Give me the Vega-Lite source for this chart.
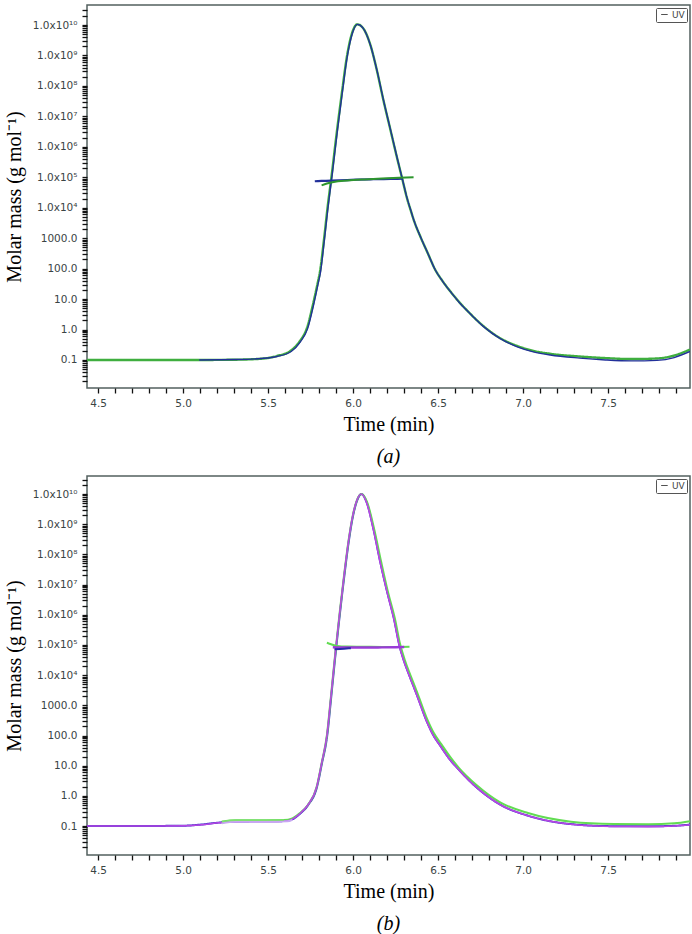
{
 "$schema": "https://vega.github.io/schema/vega-lite/v6.json",
 "background": "white",
 "padding": {"left": 3, "top": 4, "right": 2, "bottom": 0},
 "spacing": 5,
 "datasets": {
  "a": [
   {"series":"UV green","time":4.435,"mass":0.1},{"series":"UV green","time":4.80,"mass":0.1},{"series":"UV green","time":5.107,"mass":0.1},{"series":"UV green","time":5.309,"mass":0.102},{"series":"UV green","time":5.461,"mass":0.11},{"series":"UV green","time":5.552,"mass":0.135},{"series":"UV green","time":5.633,"mass":0.2},{"series":"UV green","time":5.688,"mass":0.42},{"series":"UV green","time":5.729,"mass":1.12},{"series":"UV green","time":5.765,"mass":6.9},{"series":"UV green","time":5.790,"mass":30},{"series":"UV green","time":5.806,"mass":83},{"series":"UV green","time":5.830,"mass":1000},{"series":"UV green","time":5.850,"mass":10000},{"series":"UV green","time":5.875,"mass":126000},{"series":"UV green","time":5.905,"mass":3.2e6},{"series":"UV green","time":5.935,"mass":6.3e7},{"series":"UV green","time":5.965,"mass":1.0e9},{"series":"UV green","time":5.995,"mass":5.6e9},{"series":"UV green","time":6.025,"mass":1.05e10},{"series":"UV green","time":6.059,"mass":7.9e9},{"series":"UV green","time":6.100,"mass":2.4e9},{"series":"UV green","time":6.141,"mass":3.1e8},{"series":"UV green","time":6.178,"mass":3.5e7},{"series":"UV green","time":6.218,"mass":4.0e6},{"series":"UV green","time":6.259,"mass":430000},{"series":"UV green","time":6.288,"mass":95000},{"series":"UV green","time":6.318,"mass":20000},{"series":"UV green","time":6.340,"mass":7900},{"series":"UV green","time":6.360,"mass":3550},{"series":"UV green","time":6.400,"mass":1000},{"series":"UV green","time":6.440,"mass":316},{"series":"UV green","time":6.482,"mass":95},{"series":"UV green","time":6.525,"mass":40},{"series":"UV green","time":6.571,"mass":18.2},{"series":"UV green","time":6.620,"mass":8.5},{"series":"UV green","time":6.671,"mass":4.2},{"series":"UV green","time":6.765,"mass":1.32},{"series":"UV green","time":6.865,"mass":0.52},{"series":"UV green","time":6.965,"mass":0.29},{"series":"UV green","time":7.059,"mass":0.2},{"series":"UV green","time":7.159,"mass":0.16},{"series":"UV green","time":7.333,"mass":0.13},{"series":"UV green","time":7.485,"mass":0.115},{"series":"UV green","time":7.636,"mass":0.107},{"series":"UV green","time":7.788,"mass":0.112},{"series":"UV green","time":7.889,"mass":0.14},{"series":"UV green","time":7.982,"mass":0.22},
   {"series":"UV blue","time":5.095,"mass":0.1},{"series":"UV blue","time":5.309,"mass":0.103},{"series":"UV blue","time":5.461,"mass":0.112},{"series":"UV blue","time":5.552,"mass":0.13},{"series":"UV blue","time":5.636,"mass":0.19},{"series":"UV blue","time":5.691,"mass":0.4},{"series":"UV blue","time":5.732,"mass":1.05},{"series":"UV blue","time":5.768,"mass":6.5},{"series":"UV blue","time":5.793,"mass":29},{"series":"UV blue","time":5.809,"mass":80},{"series":"UV blue","time":5.832,"mass":950},{"series":"UV blue","time":5.852,"mass":9500},{"series":"UV blue","time":5.877,"mass":120000},{"series":"UV blue","time":5.907,"mass":3.1e6},{"series":"UV blue","time":5.937,"mass":6.2e7},{"series":"UV blue","time":5.967,"mass":1.0e9},{"series":"UV blue","time":5.997,"mass":5.6e9},{"series":"UV blue","time":6.026,"mass":1.05e10},{"series":"UV blue","time":6.060,"mass":7.8e9},{"series":"UV blue","time":6.101,"mass":2.3e9},{"series":"UV blue","time":6.142,"mass":3.0e8},{"series":"UV blue","time":6.179,"mass":3.4e7},{"series":"UV blue","time":6.219,"mass":3.9e6},{"series":"UV blue","time":6.260,"mass":420000},{"series":"UV blue","time":6.289,"mass":93000},{"series":"UV blue","time":6.319,"mass":19500},{"series":"UV blue","time":6.341,"mass":7700},{"series":"UV blue","time":6.361,"mass":3450},{"series":"UV blue","time":6.401,"mass":980},{"series":"UV blue","time":6.441,"mass":308},{"series":"UV blue","time":6.483,"mass":92},{"series":"UV blue","time":6.526,"mass":39},{"series":"UV blue","time":6.572,"mass":17.8},{"series":"UV blue","time":6.621,"mass":8.2},{"series":"UV blue","time":6.672,"mass":4.1},{"series":"UV blue","time":6.766,"mass":1.27},{"series":"UV blue","time":6.866,"mass":0.5},{"series":"UV blue","time":6.966,"mass":0.27},{"series":"UV blue","time":7.06,"mass":0.185},{"series":"UV blue","time":7.16,"mass":0.145},{"series":"UV blue","time":7.333,"mass":0.115},{"series":"UV blue","time":7.485,"mass":0.1},{"series":"UV blue","time":7.636,"mass":0.093},{"series":"UV blue","time":7.788,"mass":0.097},{"series":"UV blue","time":7.889,"mass":0.12},{"series":"UV blue","time":7.982,"mass":0.19},
   {"series":"MM blue","time":5.775,"mass":74000},{"series":"MM blue","time":5.815,"mass":76000},{"series":"MM blue","time":5.916,"mass":79000},{"series":"MM blue","time":6.018,"mass":83000},{"series":"MM blue","time":6.119,"mass":86000},{"series":"MM blue","time":6.220,"mass":88000},{"series":"MM blue","time":6.291,"mass":90000},
   {"series":"MM green","time":5.815,"mass":54000},{"series":"MM green","time":5.846,"mass":62000},{"series":"MM green","time":5.886,"mass":70000},{"series":"MM green","time":5.967,"mass":78000},{"series":"MM green","time":6.068,"mass":85000},{"series":"MM green","time":6.170,"mass":91000},{"series":"MM green","time":6.271,"mass":96000},{"series":"MM green","time":6.356,"mass":100000}
  ],
  "b": [
   {"series":"UV magenta","time":4.435,"mass":0.1},{"series":"UV magenta","time":4.80,"mass":0.1},{"series":"UV magenta","time":5.006,"mass":0.102},{"series":"UV magenta","time":5.107,"mass":0.11},{"series":"UV magenta","time":5.208,"mass":0.128},{"series":"UV magenta","time":5.289,"mass":0.14},{"series":"UV magenta","time":5.461,"mass":0.142},{"series":"UV magenta","time":5.593,"mass":0.145},{"series":"UV magenta","time":5.643,"mass":0.17},{"series":"UV magenta","time":5.684,"mass":0.25},{"series":"UV magenta","time":5.734,"mass":0.5},{"series":"UV magenta","time":5.785,"mass":1.9},{"series":"UV magenta","time":5.815,"mass":12},{"series":"UV magenta","time":5.846,"mass":100},{"series":"UV magenta","time":5.870,"mass":2000},{"series":"UV magenta","time":5.895,"mass":50000},{"series":"UV magenta","time":5.922,"mass":1.26e6},{"series":"UV magenta","time":5.947,"mass":2.0e7},{"series":"UV magenta","time":5.972,"mass":2.5e8},{"series":"UV magenta","time":5.997,"mass":1.78e9},{"series":"UV magenta","time":6.023,"mass":6.3e9},{"series":"UV magenta","time":6.048,"mass":1.0e10},{"series":"UV magenta","time":6.078,"mass":5.5e9},{"series":"UV magenta","time":6.119,"mass":6.9e8},{"series":"UV magenta","time":6.159,"mass":5.6e7},{"series":"UV magenta","time":6.200,"mass":5.6e6},{"series":"UV magenta","time":6.240,"mass":720000},{"series":"UV magenta","time":6.271,"mass":100000},{"series":"UV magenta","time":6.300,"mass":28000},{"series":"UV magenta","time":6.321,"mass":13200},{"series":"UV magenta","time":6.350,"mass":5000},{"series":"UV magenta","time":6.372,"mass":2400},{"series":"UV magenta","time":6.432,"mass":300},{"series":"UV magenta","time":6.470,"mass":105},{"series":"UV magenta","time":6.513,"mass":45},{"series":"UV magenta","time":6.565,"mass":17},{"series":"UV magenta","time":6.625,"mass":7},{"series":"UV magenta","time":6.726,"mass":1.9},{"series":"UV magenta","time":6.868,"mass":0.5},{"series":"UV magenta","time":7.029,"mass":0.22},{"series":"UV magenta","time":7.282,"mass":0.115},{"series":"UV magenta","time":7.535,"mass":0.097},{"series":"UV magenta","time":7.738,"mass":0.096},{"series":"UV magenta","time":7.889,"mass":0.1},{"series":"UV magenta","time":7.982,"mass":0.11},
   {"series":"UV blue","time":4.435,"mass":0.101},{"series":"UV blue","time":4.80,"mass":0.101},{"series":"UV blue","time":5.006,"mass":0.103},{"series":"UV blue","time":5.107,"mass":0.112},{"series":"UV blue","time":5.208,"mass":0.13},{"series":"UV blue","time":5.289,"mass":0.141},{"series":"UV blue","time":5.593,"mass":0.146},{"series":"UV blue","time":5.645,"mass":0.17},{"series":"UV blue","time":5.686,"mass":0.25},{"series":"UV blue","time":5.736,"mass":0.5},{"series":"UV blue","time":5.787,"mass":1.9},{"series":"UV blue","time":5.817,"mass":12},{"series":"UV blue","time":5.848,"mass":100},{"series":"UV blue","time":5.872,"mass":2000},{"series":"UV blue","time":5.897,"mass":50000},{"series":"UV blue","time":5.924,"mass":1.26e6},{"series":"UV blue","time":5.949,"mass":2.0e7},{"series":"UV blue","time":5.974,"mass":2.5e8},{"series":"UV blue","time":5.999,"mass":1.78e9},{"series":"UV blue","time":6.025,"mass":6.3e9},{"series":"UV blue","time":6.049,"mass":1.0e10},{"series":"UV blue","time":6.079,"mass":5.5e9},{"series":"UV blue","time":6.120,"mass":6.9e8},{"series":"UV blue","time":6.160,"mass":5.6e7},{"series":"UV blue","time":6.201,"mass":5.6e6},{"series":"UV blue","time":6.241,"mass":720000},{"series":"UV blue","time":6.272,"mass":100000},{"series":"UV blue","time":6.301,"mass":28000},{"series":"UV blue","time":6.322,"mass":13200},{"series":"UV blue","time":6.351,"mass":5000},{"series":"UV blue","time":6.373,"mass":2400},{"series":"UV blue","time":6.433,"mass":300},{"series":"UV blue","time":6.471,"mass":105},{"series":"UV blue","time":6.514,"mass":45},{"series":"UV blue","time":6.566,"mass":17},{"series":"UV blue","time":6.626,"mass":7},{"series":"UV blue","time":6.727,"mass":1.9},{"series":"UV blue","time":6.869,"mass":0.5},{"series":"UV blue","time":7.030,"mass":0.22},{"series":"UV blue","time":7.282,"mass":0.116},{"series":"UV blue","time":7.535,"mass":0.099},{"series":"UV blue","time":7.738,"mass":0.098},{"series":"UV blue","time":7.889,"mass":0.102},{"series":"UV blue","time":7.982,"mass":0.112},
   {"series":"UV green","time":5.228,"mass":0.14},{"series":"UV green","time":5.309,"mass":0.155},{"series":"UV green","time":5.461,"mass":0.156},{"series":"UV green","time":5.593,"mass":0.158},{"series":"UV green","time":5.643,"mass":0.18},{"series":"UV green","time":5.684,"mass":0.26},{"series":"UV green","time":5.734,"mass":0.5},{"series":"UV green","time":5.785,"mass":1.9},{"series":"UV green","time":5.815,"mass":12},{"series":"UV green","time":5.846,"mass":100},{"series":"UV green","time":5.870,"mass":2000},{"series":"UV green","time":5.895,"mass":50000},{"series":"UV green","time":5.922,"mass":1.26e6},{"series":"UV green","time":5.947,"mass":2.0e7},{"series":"UV green","time":5.972,"mass":2.5e8},{"series":"UV green","time":5.997,"mass":1.78e9},{"series":"UV green","time":6.023,"mass":6.3e9},{"series":"UV green","time":6.048,"mass":1.0e10},{"series":"UV green","time":6.082,"mass":5.5e9},{"series":"UV green","time":6.124,"mass":7e8},{"series":"UV green","time":6.165,"mass":5.8e7},{"series":"UV green","time":6.205,"mass":5.8e6},{"series":"UV green","time":6.246,"mass":750000},{"series":"UV green","time":6.277,"mass":105000},{"series":"UV green","time":6.306,"mass":30000},{"series":"UV green","time":6.327,"mass":14000},{"series":"UV green","time":6.356,"mass":5400},{"series":"UV green","time":6.378,"mass":2600},{"series":"UV green","time":6.438,"mass":330},{"series":"UV green","time":6.476,"mass":118},{"series":"UV green","time":6.519,"mass":52},{"series":"UV green","time":6.570,"mass":20},{"series":"UV green","time":6.625,"mass":8.2},{"series":"UV green","time":6.726,"mass":2.3},{"series":"UV green","time":6.868,"mass":0.6},{"series":"UV green","time":7.029,"mass":0.27},{"series":"UV green","time":7.282,"mass":0.14},{"series":"UV green","time":7.535,"mass":0.117},{"series":"UV green","time":7.738,"mass":0.115},{"series":"UV green","time":7.889,"mass":0.123},{"series":"UV green","time":7.982,"mass":0.145},
   {"series":"UV lavender","time":5.228,"mass":0.125},{"series":"UV lavender","time":5.309,"mass":0.138},{"series":"UV lavender","time":5.461,"mass":0.14},{"series":"UV lavender","time":5.613,"mass":0.143},{"series":"UV lavender","time":5.643,"mass":0.16},
   {"series":"MM green","time":5.846,"mass":118000},{"series":"MM green","time":5.871,"mass":105000},{"series":"MM green","time":5.906,"mass":92000},{"series":"MM green","time":5.967,"mass":88000},{"series":"MM green","time":6.068,"mass":87000},{"series":"MM green","time":6.170,"mass":86000},{"series":"MM green","time":6.271,"mass":86000},{"series":"MM green","time":6.332,"mass":87000},
   {"series":"MM magenta","time":5.881,"mass":84000},{"series":"MM magenta","time":5.967,"mass":82000},{"series":"MM magenta","time":6.068,"mass":82000},{"series":"MM magenta","time":6.170,"mass":83000},{"series":"MM magenta","time":6.301,"mass":85000},
   {"series":"MM blue","time":5.891,"mass":72000},{"series":"MM blue","time":5.947,"mass":75000},{"series":"MM blue","time":5.987,"mass":78000}
  ]
 },
 "vconcat": [
  {
   "width": 603, "height": 383,
   "data": {"name": "a"},
   "title": {"text": "(a)", "orient": "bottom", "frame": "group", "anchor": "middle", "offset": 12},
   "encoding": {
    "x": {"field": "time", "type": "quantitative", "scale": {"domain": [4.435, 7.982], "nice": false, "zero": false},
     "axis": {"title": "Time (min)", "values": [4.5,4.6,4.7,4.8,4.9,5.0,5.1,5.2,5.3,5.4,5.5,5.6,5.7,5.8,5.9,6.0,6.1,6.2,6.3,6.4,6.5,6.6,6.7,6.8,6.9,7.0,7.1,7.2,7.3,7.4,7.5,7.6,7.7,7.8,7.9],
      "labelExpr": "abs(datum.value*2 - round(datum.value*2)) < 0.001 ? format(datum.value, '.1f') : ''",
      "labelOverlap": false, "labelPadding": 5, "titlePadding": 6, "ticks": true, "tickSize": 5, "tickWidth": 1.3, "tickColor": "#111111"}},
    "y": {"field": "mass", "type": "quantitative", "scale": {"type": "log", "domain": [0.012, 4.54e10], "nice": false},
     "axis": {"title": "Molar mass (g mol⁻¹)",
      "values": [0.02,0.03,0.04,0.05,0.06,0.07,0.08,0.09,0.1,0.2,0.3,0.4,0.5,0.6,0.7,0.8,0.9,1,2,3,4,5,6,7,8,9,10,20,30,40,50,60,70,80,90,100,200,300,400,500,600,700,800,900,1000,2000,3000,4000,5000,6000,7000,8000,9000,1e4,2e4,3e4,4e4,5e4,6e4,7e4,8e4,9e4,1e5,2e5,3e5,4e5,5e5,6e5,7e5,8e5,9e5,1e6,2e6,3e6,4e6,5e6,6e6,7e6,8e6,9e6,1e7,2e7,3e7,4e7,5e7,6e7,7e7,8e7,9e7,1e8,2e8,3e8,4e8,5e8,6e8,7e8,8e8,9e8,1e9,2e9,3e9,4e9,5e9,6e9,7e9,8e9,9e9,1e10,2e10,3e10],
      "labelExpr": "abs(log(datum.value)/LN10 - round(log(datum.value)/LN10)) > 0.001 ? '' : datum.value < 5000 ? format(datum.value, '.1f') : '1.0x10' + (datum.value < 5e4 ? '⁴' : datum.value < 5e5 ? '⁵' : datum.value < 5e6 ? '⁶' : datum.value < 5e7 ? '⁷' : datum.value < 5e8 ? '⁸' : datum.value < 5e9 ? '⁹' : '¹⁰')",
      "labelOverlap": false, "labelPadding": 5, "titlePadding": 8, "ticks": true, "tickSize": 5, "tickWidth": 1.3, "tickColor": "#111111"}}
   },
   "layer": [
    {"transform": [{"filter": "datum.series == 'UV green'"}], "mark": {"type": "line", "color": "#3fae3f", "strokeWidth": 2.4, "interpolate": "monotone", "clip": true},
     "encoding": {"strokeDash": {"datum": "UV", "scale": {"domain": ["UV"], "range": [[1, 0]]},
      "legend": {"title": null, "orient": "top-right", "offset": 3, "padding": 2, "strokeColor": "#555555", "fillColor": "white", "cornerRadius": 1, "labelFont": "DejaVu Sans", "labelFontSize": 9, "labelColor": "#444444", "symbolType": "stroke", "symbolStrokeColor": "#222222", "symbolStrokeWidth": 1, "symbolSize": 40, "symbolOffset": 2, "labelOffset": 3}}}},
    {"transform": [{"filter": "datum.series == 'UV blue'"}], "mark": {"type": "line", "color": "#22309a", "strokeWidth": 1.4, "interpolate": "monotone", "clip": true}, "encoding": {}},
    {"transform": [{"filter": "datum.series == 'MM blue'"}], "mark": {"type": "line", "color": "#22309a", "strokeWidth": 2.2, "interpolate": "monotone", "clip": true}, "encoding": {}},
    {"transform": [{"filter": "datum.series == 'MM green'"}], "mark": {"type": "line", "color": "#2e962e", "strokeWidth": 2, "interpolate": "monotone", "clip": true}, "encoding": {}}
   ]
  },
  {
   "width": 603, "height": 379,
   "data": {"name": "b"},
   "title": {"text": "(b)", "orient": "bottom", "frame": "group", "anchor": "middle", "offset": 12},
   "encoding": {
    "x": {"field": "time", "type": "quantitative", "scale": {"domain": [4.435, 7.982], "nice": false, "zero": false},
     "axis": {"title": "Time (min)", "values": [4.5,4.6,4.7,4.8,4.9,5.0,5.1,5.2,5.3,5.4,5.5,5.6,5.7,5.8,5.9,6.0,6.1,6.2,6.3,6.4,6.5,6.6,6.7,6.8,6.9,7.0,7.1,7.2,7.3,7.4,7.5,7.6,7.7,7.8,7.9],
      "labelExpr": "abs(datum.value*2 - round(datum.value*2)) < 0.001 ? format(datum.value, '.1f') : ''",
      "labelOverlap": false, "labelPadding": 5, "titlePadding": 6, "ticks": true, "tickSize": 5, "tickWidth": 1.3, "tickColor": "#111111"}},
    "y": {"field": "mass", "type": "quantitative", "scale": {"type": "log", "domain": [0.011, 3.95e10], "nice": false},
     "axis": {"title": "Molar mass (g mol⁻¹)",
      "values": [0.02,0.03,0.04,0.05,0.06,0.07,0.08,0.09,0.1,0.2,0.3,0.4,0.5,0.6,0.7,0.8,0.9,1,2,3,4,5,6,7,8,9,10,20,30,40,50,60,70,80,90,100,200,300,400,500,600,700,800,900,1000,2000,3000,4000,5000,6000,7000,8000,9000,1e4,2e4,3e4,4e4,5e4,6e4,7e4,8e4,9e4,1e5,2e5,3e5,4e5,5e5,6e5,7e5,8e5,9e5,1e6,2e6,3e6,4e6,5e6,6e6,7e6,8e6,9e6,1e7,2e7,3e7,4e7,5e7,6e7,7e7,8e7,9e7,1e8,2e8,3e8,4e8,5e8,6e8,7e8,8e8,9e8,1e9,2e9,3e9,4e9,5e9,6e9,7e9,8e9,9e9,1e10,2e10,3e10],
      "labelExpr": "abs(log(datum.value)/LN10 - round(log(datum.value)/LN10)) > 0.001 ? '' : datum.value < 5000 ? format(datum.value, '.1f') : '1.0x10' + (datum.value < 5e4 ? '⁴' : datum.value < 5e5 ? '⁵' : datum.value < 5e6 ? '⁶' : datum.value < 5e7 ? '⁷' : datum.value < 5e8 ? '⁸' : datum.value < 5e9 ? '⁹' : '¹⁰')",
      "labelOverlap": false, "labelPadding": 5, "titlePadding": 8, "ticks": true, "tickSize": 5, "tickWidth": 1.3, "tickColor": "#111111"}}
   },
   "layer": [
    {"transform": [{"filter": "datum.series == 'UV blue'"}], "mark": {"type": "line", "color": "#3434c4", "strokeWidth": 2, "interpolate": "monotone", "clip": true},
     "encoding": {"strokeDash": {"datum": "UV", "scale": {"domain": ["UV"], "range": [[1, 0]]},
      "legend": {"title": null, "orient": "top-right", "offset": 3, "padding": 2, "strokeColor": "#555555", "fillColor": "white", "cornerRadius": 1, "labelFont": "DejaVu Sans", "labelFontSize": 9, "labelColor": "#444444", "symbolType": "stroke", "symbolStrokeColor": "#222222", "symbolStrokeWidth": 1, "symbolSize": 40, "symbolOffset": 2, "labelOffset": 3}}}},
    {"transform": [{"filter": "datum.series == 'UV green'"}], "mark": {"type": "line", "color": "#62dc52", "strokeWidth": 2, "interpolate": "monotone", "clip": true}, "encoding": {}},
    {"transform": [{"filter": "datum.series == 'UV magenta'"}], "mark": {"type": "line", "color": "#b846e4", "strokeWidth": 1.6, "interpolate": "monotone", "clip": true}, "encoding": {}},
    {"transform": [{"filter": "datum.series == 'UV lavender'"}], "mark": {"type": "line", "color": "#c8a6f2", "strokeWidth": 2, "interpolate": "monotone", "clip": true}, "encoding": {}},
    {"transform": [{"filter": "datum.series == 'UV green' && datum.time < 5.62"}], "mark": {"type": "line", "color": "#7fe070", "strokeWidth": 1.6, "interpolate": "monotone", "clip": true}, "encoding": {}},
    {"transform": [{"filter": "datum.series == 'MM green'"}], "mark": {"type": "line", "color": "#62dc52", "strokeWidth": 2, "interpolate": "monotone", "clip": true}, "encoding": {}},
    {"transform": [{"filter": "datum.series == 'MM magenta'"}], "mark": {"type": "line", "color": "#9a3ad8", "strokeWidth": 2.4, "interpolate": "monotone", "clip": true}, "encoding": {}},
    {"transform": [{"filter": "datum.series == 'MM blue'"}], "mark": {"type": "line", "color": "#2a2aa8", "strokeWidth": 2, "interpolate": "monotone", "clip": true}, "encoding": {}}
   ]
  }
 ],
 "resolve": {"scale": {"strokeDash": "independent"}, "legend": {"strokeDash": "independent"}},
 "config": {
  "view": {"stroke": "#53605f", "strokeWidth": 1.5},
  "axis": {"domain": false, "grid": false, "labelFont": "DejaVu Sans", "labelFontSize": 10.5, "labelColor": "#3a4444", "titleFont": "Liberation Serif", "titleFontSize": 20, "titleFontWeight": "normal", "titleColor": "black"},
  "title": {"font": "Liberation Serif", "fontSize": 20, "fontWeight": "normal", "fontStyle": "italic", "color": "black"}
 }
}
